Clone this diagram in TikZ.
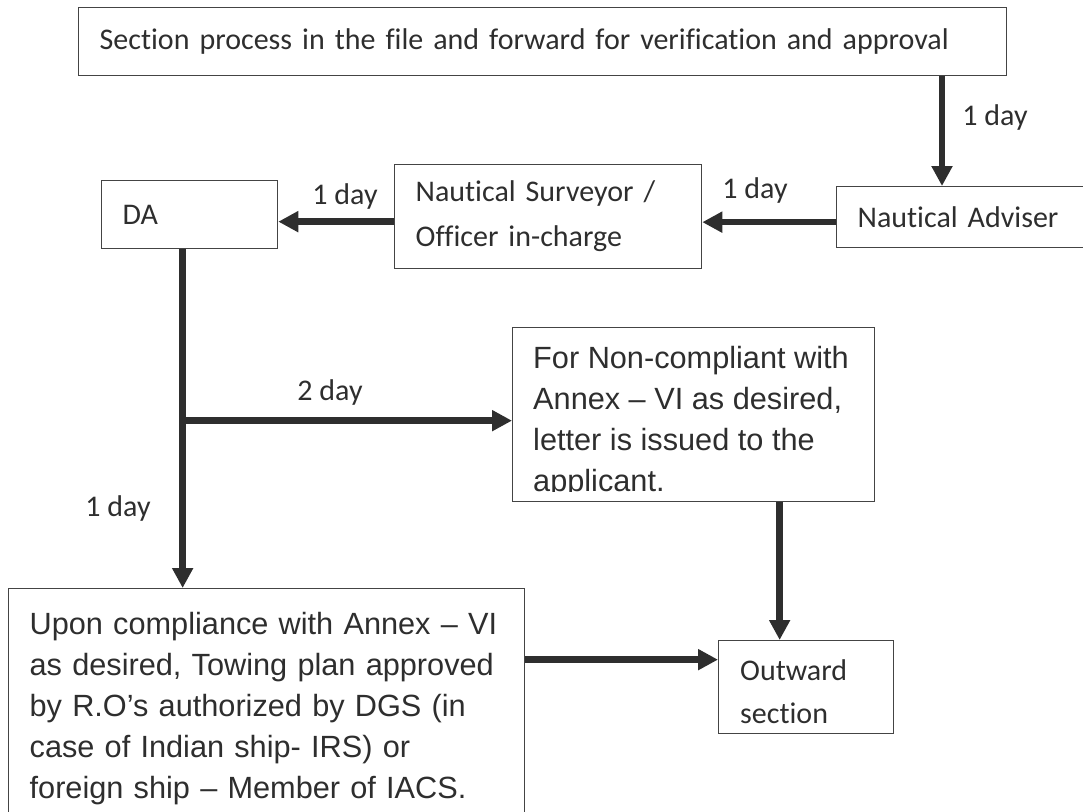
\documentclass[tikz,border=0pt]{standalone}
\usepackage{fontspec}
\setmainfont[Ligatures={TeX,NoCommon}]{Carlito}
\newfontfamily\arialfont{Liberation Sans}
\usetikzlibrary{arrows.meta}
\definecolor{inkgray}{HTML}{2E2E2E}
\definecolor{linegray}{HTML}{444444}

\begin{document}
\begin{tikzpicture}[x=1pt, y=-1pt,
    box/.style={draw=linegray, line width=1.3pt, inner xsep=21pt, inner ysep=0pt,
      align=left, anchor=north west, text=inkgray, font=\fontsize{30}{45}\selectfont},
    calibtext/.style={inner sep=0pt, align=left, anchor=north west, text=inkgray,
      font=\fontsize{30}{43}\selectfont},
    arialtext/.style={inner sep=0pt, align=left, anchor=north west, text=inkgray,
      font=\arialfont\fontsize{30.7}{41}\selectfont},
    lbl/.style={text=inkgray, inner sep=0pt, font=\fontsize{30}{36}\selectfont},
    flow/.style={draw=inkgray, line width=6.5pt, -{Triangle[length=20pt, width=20pt]}}]
      \useasboundingbox (0,0) rectangle (1083,811);
      % boxes
      \node[box, text width=886pt, minimum height=68pt] at (78,7) (secbox)
        {Section process in the file and forward for verification and approval};
      \node[box, text width=205pt, minimum height=61pt] at (836,186) (advbox) {Nautical Adviser};
      \node[box, text width=265pt, minimum height=104pt] at (394,164) (survbox)
        {Nautical Surveyor /\\Officer in-charge};
      \node[box, text width=134pt, minimum height=68pt] at (101,180) (dabox) {DA};
      \node[box, minimum width=362pt, minimum height=174pt] at (512,327) (ncbox) {};
      \node[box, minimum width=175pt, minimum height=93pt] at (718,640) (outbox) {};
      \node[box, text width=474pt, minimum height=240pt, font=\arialfont\fontsize{30.7}{41}\selectfont]
        at (8,588) (compbox)
        {Upon compliance with Annex – VI\\as desired, Towing plan approved\\by R.O’s authorized by DGS (in\\case of Indian ship- IRS) or\\foreign ship – Member of IACS.};
      % texts cut off at the foot of their boxes
      \begin{scope}
        \clip (ncbox.north west) rectangle ([yshift=11pt]ncbox.south east);
        \node[arialtext] at ([xshift=21pt, yshift=-19pt]ncbox.north west) (nctext)
          {For Non-compliant with\\Annex – VI as desired,\\letter is issued to the\\applicant.};
      \end{scope}
      \begin{scope}
        \clip (outbox.north west) rectangle ([yshift=11pt]outbox.south east);
        \node[calibtext] at ([xshift=22pt, yshift=-19pt]outbox.north west) (outtext) {Outward\\section};
      \end{scope}
      % day labels
      \node[lbl] at (995,117) (day1) {1 day};
      \node[lbl] at (755,190) (day2) {1 day};
      \node[lbl] at (345,196) (day3) {1 day};
      \node[lbl] at (330,392) (day4) {2 day};
      \node[lbl] at (118,508) (day5) {1 day};
      % arrows
      \coordinate (advin) at ([xshift=106pt]advbox.north west);
      \coordinate (advout) at ([yshift=-5pt]advbox.west);
      \coordinate (survout) at ([yshift=-5pt]survbox.west);
      \coordinate (daout) at ([xshift=-7pt]dabox.south);
      \coordinate (ncin) at ([yshift=-6pt]ncbox.west);
      \coordinate (outin) at ([xshift=-26.5pt]outbox.north);
      \coordinate (outleft) at ([yshift=27.5pt]outbox.west);
      \path[flow] (secbox.south -| advin) -- (advin);
      \path[flow] (advout) -- (advout -| survbox.east);
      \path[flow] (survout) -- (survout -| dabox.east);
      \path[flow] (daout) -- (daout |- compbox.north);
      \path[flow] (daout |- ncin) -- (ncin);
      \path[flow] (ncbox.south -| outin) -- (outin);
      \path[flow] (outleft -| compbox.east) -- (outleft);
    \end{tikzpicture}
\end{document}
